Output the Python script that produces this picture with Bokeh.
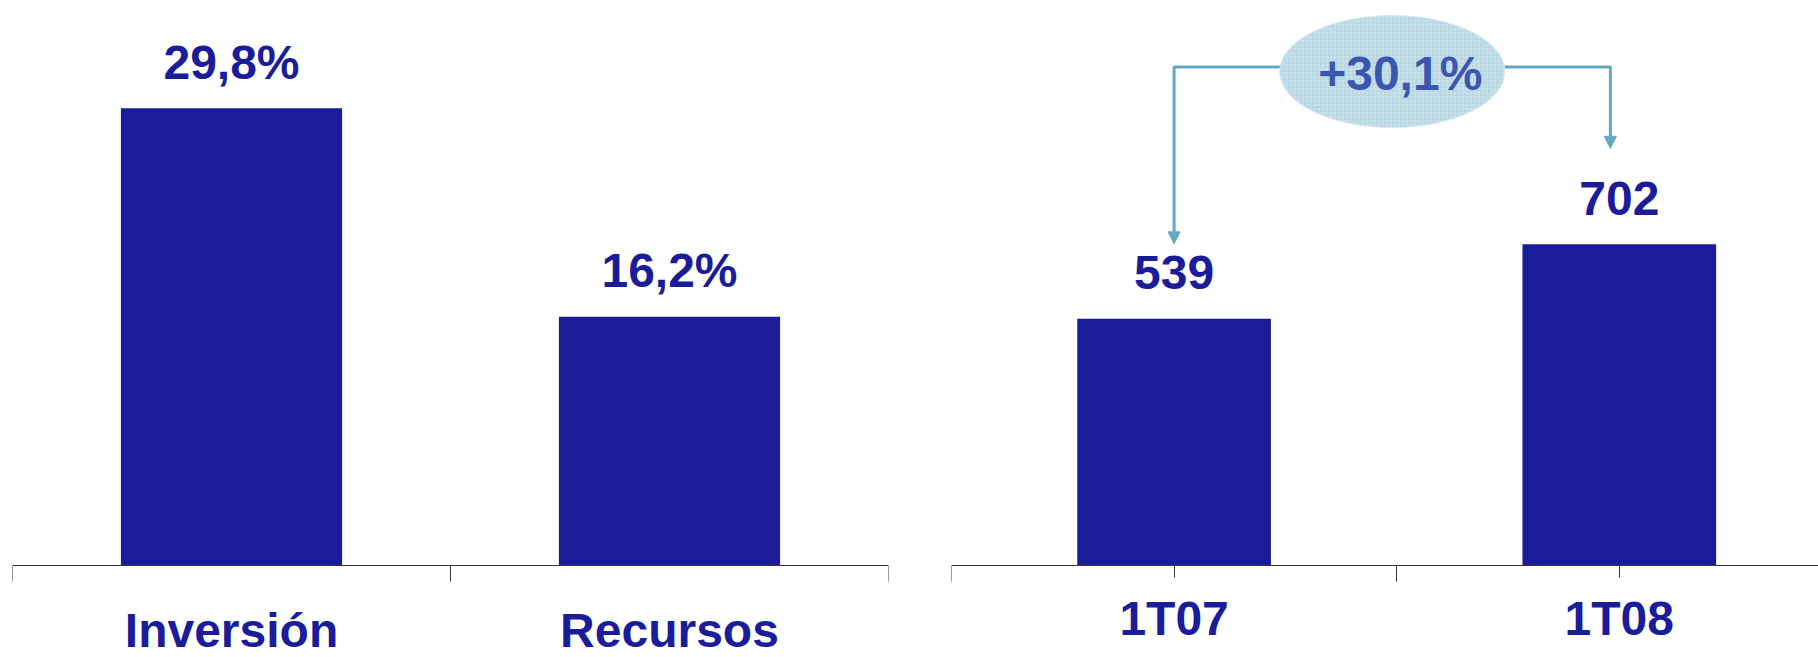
from bokeh.plotting import figure
from bokeh.layouts import row
from bokeh.models import LinearAxis, FixedTicker, Range1d, Arrow, NormalHead, ColumnDataSource
from bokeh.core.properties import value
from bokeh.embed import file_html
from bokeh.resources import INLINE

# ---------------- data ----------------
left_categories = ["Inversión", "Recursos"]
left_values = [29.8, 16.2]

right_categories = ["1T07", "1T08"]
right_values = [539, 702]

growth_label = "+30,1%"
# annotation placement (data units of the right panel)
bracket_y = 1090
arrow_tips = [703, 912]
arrow_shift = [0.0, -0.02]   # small horizontal nudge of each arrow from the bar centre

# ---------------- style ----------------
NAVY = "#1a1c9a"
FONT = "Liberation Sans"
AXIS_COL = "#333333"
BRACKET_COL = "#64a7c3"
HEIGHT = 657


def base_fig(width, border_left, border_right, x_end, y_start, y_end):
    p = figure(width=width, height=HEIGHT, min_border_left=border_left,
               min_border_right=border_right, min_border_top=0, min_border_bottom=0,
               x_range=Range1d(0, x_end), y_range=Range1d(y_start, y_end),
               x_axis_location=None, y_axis_location=None,
               toolbar_location=None, output_backend="svg",
               outline_line_color=None, background_fill_color="white",
               border_fill_color="white")
    p.grid.visible = False
    return p


def add_axis(p, cats, major_out, standoff):
    centers = [i + 0.5 for i in range(len(cats))]
    bounds = [float(i) for i in range(len(cats) + 1)]
    ax = LinearAxis(fixed_location=0,
                    ticker=FixedTicker(ticks=centers, minor_ticks=bounds),
                    major_label_overrides={c: t for c, t in zip(centers, cats)})
    ax.axis_line_color = AXIS_COL
    ax.axis_line_width = 1
    ax.major_tick_line_color = AXIS_COL
    ax.major_tick_out = major_out
    ax.major_tick_in = 0
    ax.minor_tick_line_color = AXIS_COL
    ax.minor_tick_out = 16
    ax.minor_tick_in = 0
    ax.major_label_standoff = standoff
    ax.major_label_text_font = FONT
    ax.major_label_text_font_style = "bold"
    ax.major_label_text_font_size = "48px"
    ax.major_label_text_color = NAVY
    p.add_layout(ax, "below")


def add_bars(p, cats, vals, width, labels):
    src = ColumnDataSource(dict(x=[i + 0.5 for i in range(len(cats))], top=vals, label=labels))
    p.vbar(x="x", top="top", bottom=0, width=width, source=src,
           fill_color=NAVY, line_color=None)
    p.text(x="x", y="top", text="label", source=src, y_offset=-46,
           text_align="center", text_baseline="alphabetic",
           text_font=value(FONT), text_font_style="bold",
           text_font_size="48px", text_color=NAVY)


# ---------------- left panel ----------------
# zero line 564.6 px from top, 15.33 px per unit
p1 = base_fig(898, 12, 10, 2.0, -92.4 / 15.33, 564.6 / 15.33)
add_axis(p1, left_categories, 0, 23)
add_bars(p1, left_categories, left_values, 0.505,
         [f"{v:.1f}".replace(".", ",") + "%" for v in left_values])

# ---------------- right panel ----------------
# zero line 564.6 px from top, 0.457 px per unit
p2 = base_fig(920, 53, 0, 867 / 445.2, -92.4 / 0.457, 564.6 / 0.457)
add_axis(p2, right_categories, 12, 11)

r_centers = [i + 0.5 for i in range(len(right_categories))]
arrow_x = [c + s for c, s in zip(r_centers, arrow_shift)]
# bracket (drawn before the ellipse so the ellipse covers it)
p2.segment(x0=arrow_x[0], y0=bracket_y, x1=arrow_x[1], y1=bracket_y,
           line_color=BRACKET_COL, line_width=3)
for xc, tip in zip(arrow_x, arrow_tips):
    p2.add_layout(Arrow(x_start=xc, y_start=bracket_y + 2, x_end=xc, y_end=tip,
                        line_color=BRACKET_COL, line_width=3,
                        end=NormalHead(size=12, fill_color=BRACKET_COL,
                                       line_color=BRACKET_COL, line_width=1)))
mid = sum(arrow_x) / len(arrow_x)
p2.ellipse(x=[mid], y=[bracket_y - 10], width=225, height=112,
           width_units="screen", height_units="screen",
           fill_color="#c9e1ea", line_color="#d8e9f0", line_width=1,
           hatch_pattern="+", hatch_scale=4, hatch_weight=0.6,
           hatch_color="#9fc8d9", hatch_alpha=0.8)
p2.text(x=[mid], y=[bracket_y - 10], text=[growth_label], y_offset=2, x_offset=8,
        text_align="center", text_baseline="alphabetic",
        text_font=value(FONT), text_font_style="bold",
        text_font_size="48px", text_color="#3c55b0")

add_bars(p2, right_categories, right_values, 0.435, [str(v) for v in right_values])

layout = row(p1, p2)
open("out.html", "w").write(file_html(layout, INLINE))
